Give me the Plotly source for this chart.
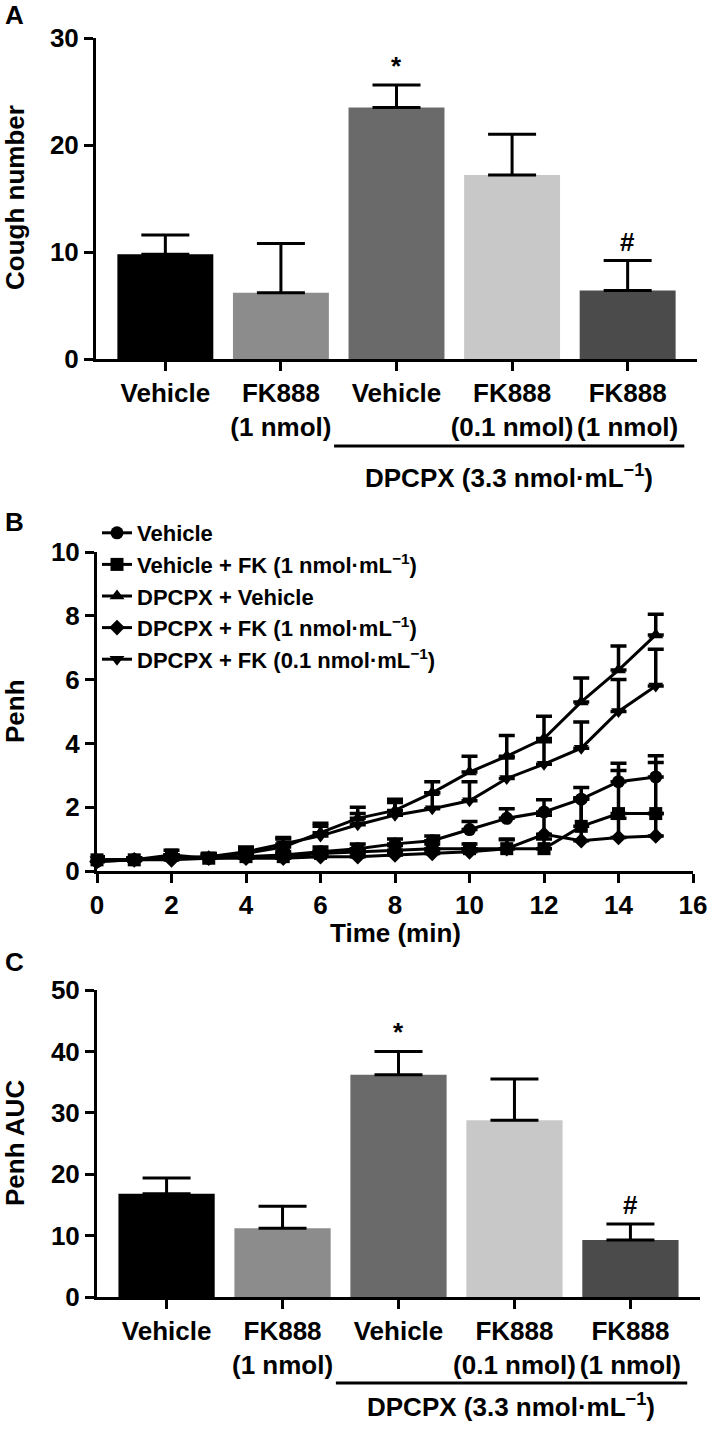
"""Cough number, Penh time course and Penh AUC (three stacked panels A-C)."""
import plotly.graph_objects as go

# ---- panel A / C: groups
groups = ["Vehicle", "FK888<br>(1 nmol)", "Vehicle", "FK888<br>(0.1 nmol)", "FK888<br>(1 nmol)"]
bar_colors = ["#000000", "#8c8c8c", "#6a6a6a", "#c8c8c8", "#4b4b4b"]
cough_mean = [9.8, 6.2, 23.5, 17.2, 6.4]
cough_sem = [1.8, 4.6, 2.1, 3.8, 2.8]
cough_marks = ["", "", "*", "", "#"]

auc_mean = [16.8, 11.2, 36.2, 28.8, 9.3]
auc_sem = [2.6, 3.6, 3.8, 6.7, 2.6]
auc_marks = ["", "", "*", "", "#"]

# ---- panel B: Penh over time
minutes = list(range(16))
veh_mean = [0.30, 0.35, 0.40, 0.40, 0.45, 0.50, 0.60, 0.70, 0.85, 0.95, 1.30, 1.65, 1.85, 2.25, 2.80, 2.95]
veh_sem = [0.10, 0.05, 0.10, 0.10, 0.10, 0.10, 0.15, 0.15, 0.15, 0.15, 0.25, 0.30, 0.38, 0.37, 0.58, 0.66]
vfk_mean = [0.35, 0.35, 0.50, 0.40, 0.45, 0.45, 0.55, 0.60, 0.65, 0.70, 0.70, 0.70, 0.70, 1.40, 1.80, 1.80]
vfk_sem = [0.10, 0.05, 0.15, 0.10, 0.10, 0.10, 0.10, 0.10, 0.15, 0.15, 0.15, 0.28, 0.30, 0.90, 1.35, 1.60]
dveh_mean = [0.35, 0.35, 0.40, 0.45, 0.55, 0.75, 1.20, 1.65, 1.90, 2.45, 3.10, 3.60, 4.15, 5.30, 6.30, 7.40]
dveh_sem = [0.10, 0.05, 0.10, 0.10, 0.15, 0.25, 0.30, 0.35, 0.35, 0.35, 0.50, 0.65, 0.70, 0.75, 0.75, 0.65]
dfk1_mean = [0.30, 0.35, 0.35, 0.40, 0.40, 0.40, 0.45, 0.45, 0.50, 0.55, 0.60, 0.70, 1.15, 0.95, 1.05, 1.10]
dfk1_sem = [0.05, 0.05, 0.10, 0.10, 0.10, 0.10, 0.10, 0.10, 0.10, 0.10, 0.10, 0.30, 0.60, 1.30, 0.60, 0.70]
dfk01_mean = [0.35, 0.35, 0.40, 0.45, 0.60, 0.85, 1.10, 1.45, 1.75, 1.95, 2.20, 2.90, 3.35, 3.85, 5.00, 5.80]
dfk01_sem = [0.05, 0.05, 0.10, 0.10, 0.15, 0.20, 0.30, 0.35, 0.40, 0.50, 0.60, 0.65, 0.70, 0.82, 1.00, 1.15]

MU = "nmol·mL<sup>−1</sup>"
penh_series = [
    ("Vehicle", "circle", veh_mean, veh_sem),
    (f"Vehicle + FK (1 {MU})", "square", vfk_mean, vfk_sem),
    ("DPCPX + Vehicle", "triangle-up", dveh_mean, dveh_sem),
    (f"DPCPX + FK (1 {MU})", "diamond", dfk1_mean, dfk1_sem),
    (f"DPCPX + FK (0.1 {MU})", "triangle-down", dfk01_mean, dfk01_sem),
]

FONT = "Liberation Sans, Arial, Helvetica, sans-serif"
W, H = 709, 1445
FS = 26

fig = go.Figure()
cat_x = list(range(len(groups)))
for mean, sem, xa, ya in [(cough_mean, cough_sem, "x", "y"), (auc_mean, auc_sem, "x3", "y3")]:
    fig.add_trace(go.Bar(
        x=cat_x, y=mean, width=0.83, marker=dict(color=bar_colors, line_width=0),
        error_y=dict(type="data", array=sem, arrayminus=[0] * len(sem), symmetric=False,
                     color="black", thickness=3, width=24),
        xaxis=xa, yaxis=ya, showlegend=False, hoverinfo="skip"))

for name, sym, m, s in penh_series:
    fig.add_trace(go.Scatter(
        x=minutes, y=m, name=name, mode="lines+markers", cliponaxis=False,
        line=dict(color="black", width=3),
        marker=dict(symbol=sym, size=13 if sym != "diamond" else 12, color="black"),
        error_y=dict(type="data", array=s, arrayminus=[0] * len(s), symmetric=False,
                     color="black", thickness=3.5, width=8),
        xaxis="x2", yaxis="y2"))

axis_style = dict(showline=True, linewidth=3, linecolor="black", ticks="outside", ticklen=9,
                  tickwidth=3, tickcolor="black", showgrid=False, zeroline=False, automargin=False,
                  tickfont=dict(size=FS, family=FONT, weight="bold", color="black"))

def py(px):  # pixel from top -> paper fraction
    return 1 - px / H

fig.update_layout(
    width=W, height=H, margin=dict(l=0, r=0, t=0, b=0, autoexpand=False),
    paper_bgcolor="white", plot_bgcolor="white",
    font=dict(family=FONT, size=FS, color="black", weight="bold"),
    xaxis=dict(domain=[96 / W, 697 / W], anchor="y", range=[-0.6, 4.6],
               tickvals=cat_x, ticktext=groups, **axis_style),
    yaxis=dict(domain=[py(359), py(38)], anchor="x", range=[0, 30], dtick=10, **axis_style),
    xaxis2=dict(domain=[97 / W, 693 / W], anchor="y2", range=[0, 16], dtick=2, **axis_style),
    yaxis2=dict(domain=[py(871), py(552)], anchor="x2", range=[0, 10], dtick=2, **axis_style),
    xaxis3=dict(domain=[97 / W, 700 / W], anchor="y3", range=[-0.6, 4.6],
                tickvals=cat_x, ticktext=groups, **axis_style),
    yaxis3=dict(domain=[py(1297), py(990)], anchor="x3", range=[0, 50], dtick=10, **axis_style),
    legend=dict(x=97 / W, xanchor="left", y=py(512), yanchor="top", bgcolor="rgba(0,0,0,0)",
                font=dict(size=22, family=FONT, weight="bold", color="black"),
                traceorder="normal", itemwidth=30),
    showlegend=True,
)

ann = []
bold = dict(family=FONT, weight="bold", color="black")
# panel letters
for letter, ypix in [("A", 15), ("B", 522), ("C", 962)]:
    ann.append(dict(text=letter, x=3 / W, y=py(ypix), xref="paper", yref="paper", xanchor="left",
                    yanchor="middle", showarrow=False, font=dict(size=26, **bold)))
# axis titles
for title, ypix in [("Cough number", 198), ("Penh", 711), ("Penh AUC", 1143)]:
    ann.append(dict(text=title, x=15 / W, y=py(ypix), xref="paper", yref="paper", textangle=-90,
                    xanchor="center", yanchor="middle", showarrow=False, font=dict(size=FS, **bold)))
ann.append(dict(text="Time (min)", x=8, y=py(933), xref="x2", yref="paper", xanchor="center",
                yanchor="middle", showarrow=False, font=dict(size=FS, **bold)))
# significance marks
for mean, sem, marks, xr, yr in [(cough_mean, cough_sem, cough_marks, "x", "y"),
                                 (auc_mean, auc_sem, auc_marks, "x3", "y3")]:
    for i, mk in enumerate(marks):
        if mk:
            ann.append(dict(text=mk, x=i, y=mean[i] + sem[i], xref=xr, yref=yr, xanchor="center",
                            yanchor="bottom", yshift=2, showarrow=False, font=dict(size=FS, **bold)))
# DPCPX group brackets
shapes = []
for xr, line_px, text_px in [("x", 446, 477), ("x3", 1383, 1405)]:
    shapes.append(dict(type="line", xref=xr, yref="paper", x0=1.46, x1=4.49, y0=py(line_px),
                       y1=py(line_px), line=dict(color="black", width=3)))
    ann.append(dict(text=f"DPCPX (3.3 {MU})", x=2.97, y=py(text_px), xref=xr, yref="paper",
                    xanchor="center", yanchor="middle", showarrow=False, font=dict(size=FS, **bold)))

fig.update_layout(annotations=ann, shapes=shapes)
# the page's default body margin would shift the figure by 8 px
fig.write_html("out.html", config={"displayModeBar": False},
               post_script="document.body.style.margin='0';")
